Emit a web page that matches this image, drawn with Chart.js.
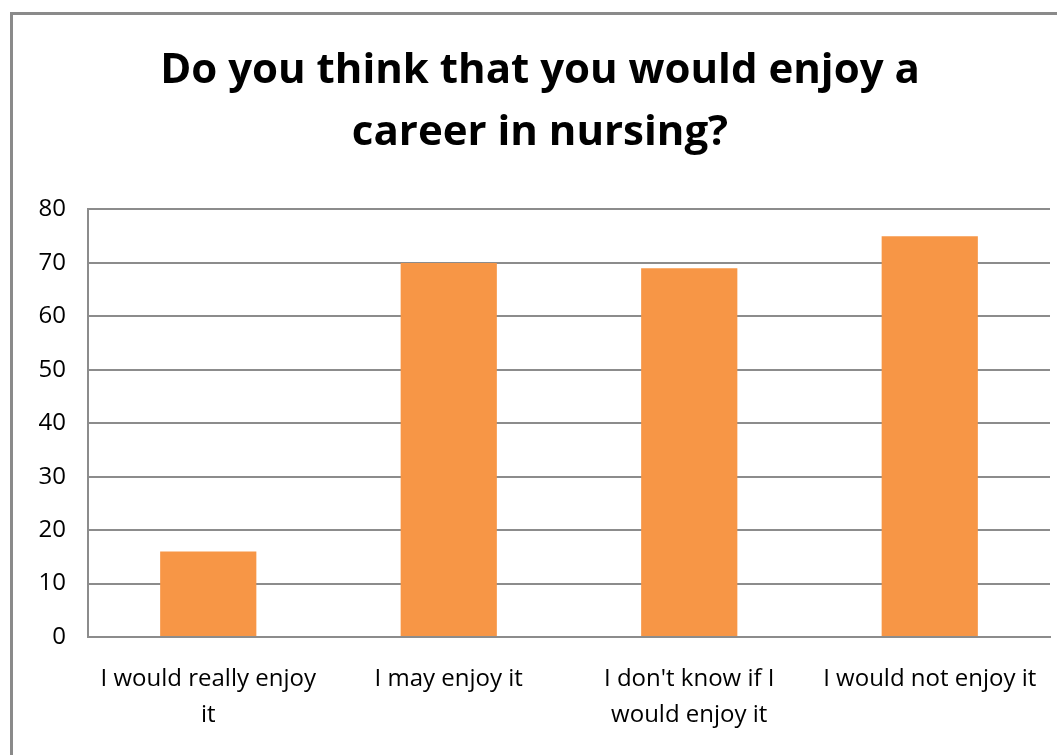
<!DOCTYPE html>
<html>
<head>
<meta charset="utf-8">
<script src="https://cdn.jsdelivr.net/npm/chart.js@4.4.1/dist/chart.umd.min.js"></script>
<style>
    html, body { margin: 0; padding: 0; background: #fff; overflow: hidden; }
    #frame { position: absolute; left: 10px; top: 12px; width: 1100px; height: 800px; border: 3px solid #8a8a8a; }
    #wrap { position: absolute; left: 0; top: 0; width: 1057px; height: 755px; }
</style>
</head>
<body>
<div id="frame"></div>
<div id="wrap"><canvas id="chartKarier"></canvas></div>
<script>
// data
const categories = [
    ['I would really enjoy', 'it'],
    ['I may enjoy it'],
    ["I don't know if I", 'would enjoy it'],
    ['I would not enjoy it']
];
const responses = [16, 70, 69, 75];
const yTicks = [0, 10, 20, 30, 40, 50, 60, 70, 80];

const ctx = document.getElementById('chartKarier');
new Chart(ctx, {
    type: 'bar',
    data: {
        labels: categories,
        datasets: [{ data: responses, backgroundColor: '#F79646', borderWidth: 0, categoryPercentage: 0.4, barPercentage: 1 }]
    },
    options: {
        responsive: true,
        maintainAspectRatio: false,
        animation: false,
        layout: { padding: { left: 30, right: 7, top: 40, bottom: 0 } },
        plugins: {
            legend: { display: false },
            tooltip: { enabled: false },
            title: {
                display: true,
                text: ['Do you think that you would enjoy a', 'career in nursing?'],
                color: '#000',
                font: { family: 'Open Sans', size: 42, weight: 'bold', lineHeight: 1.47 },
                padding: { top: 0, bottom: 46 }
            }
        },
        scales: {
            y: {
                min: 0, max: 80,
                afterBuildTicks: s => { s.ticks = yTicks.map(v => ({ value: v })); },
                ticks: { color: '#000', font: { family: 'Open Sans', size: 24 }, padding: 22 },
                grid: { color: '#8c8c8c', lineWidth: 2, drawTicks: false },
                border: { color: '#8c8c8c', width: 2 },
                afterFit: s => { s.width = 58; }
            },
            x: {
                ticks: { color: '#000', font: { family: 'Open Sans', size: 24, lineHeight: 1.5 }, padding: 24, maxRotation: 0, autoSkip: false },
                grid: { display: false, drawTicks: false },
                border: { color: '#8c8c8c', width: 2 },
                afterFit: s => { s.height = 118; s.paddingLeft = 0; s.paddingRight = 0; }
            }
        }
    }
});
</script>
</body>
</html>
